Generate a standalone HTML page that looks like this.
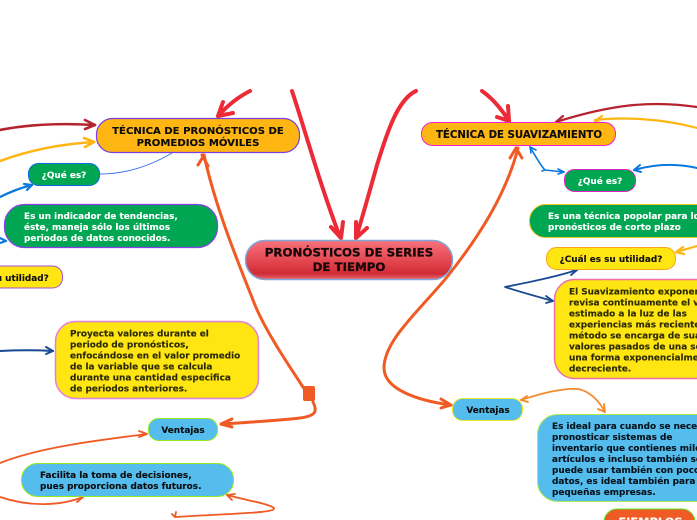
<!DOCTYPE html>
<html><head><meta charset="utf-8"><style>
html,body{margin:0;padding:0;background:#fff}
svg{display:block}
text{font-family:"DejaVu Sans",sans-serif;font-weight:700;font-size:8.9px;stroke:currentColor;stroke-width:.12px}
.c{stroke-linecap:round;stroke-linejoin:round;fill:none}
</style></head><body>
<svg width="697" height="520" viewBox="0 0 697 520" xmlns="http://www.w3.org/2000/svg">
<defs>
<linearGradient id="g" x1="0" y1="0" x2="0" y2="1">
<stop offset="0" stop-color="#f8727c"/><stop offset=".6" stop-color="#e0404a"/><stop offset=".85" stop-color="#cf2c36"/><stop offset="1" stop-color="#ee6a72"/>
</linearGradient>
</defs>

<!-- red main -->
<g class="c" stroke="#ec2b36" stroke-width="4">
<path d="M292 91C305 130 320 185 340 237"/>
<path d="M331 227L341 238L343 222"/>
<path d="M416 91C396 100 385 140 377 165C370 190 363 215 356 238"/>
<path d="M356 238L367 228M356 238L356 222"/>
<path d="M250 91C238 97 228 105 218 116"/>
<path d="M218 116L233 113M218 116L223 102"/>
<path d="M482 91C492 98 502 110 509 121"/>
<path d="M509 121L497 117M509 121L508 106"/>
</g>

<!-- orange trunk -->
<g class="c" stroke="#f05a24">
<path stroke-width="3" d="M305 390C285 360 262 325 253 300C235 255 215 205 204 155"/>
<path stroke-width="3" d="M202 155L208 166M204 155L198 165"/>
<path stroke-width="3" d="M313 402C318 412 315 416 300 418C275 421 250 422 222 424"/>
<path stroke-width="3" d="M221 424L232 419M221 424L232 427"/>
<path stroke-width="3" d="M518 148C506 195 478 238 447 277C420 310 384 340 384 368C384 390 420 401 451 405"/>
<path stroke-width="3" d="M516 148L522 158M516 148L510 158"/>
<path stroke-width="3" d="M451 405L441 399M451 405L441 408"/>
<path stroke-width="1.800" d="M147 434C100 440 40 447 0 463C-25 475 -25 490 0 497C30 507 60 506 83 497"/>
<path stroke-width="1.800" d="M147 434L139 431M147 434L139 437"/>
<path stroke-width="1.800" d="M83 497L75 495M83 497L77 502"/>
<path stroke-width="1.800" d="M227 495C245 500 270 504 274 508C276 513 240 513 175 517"/>
<path stroke-width="1.800" d="M227 495L235 494M227 495L232 500"/>
<path stroke-width="1.800" d="M175 517L172 514M175 517L176 512"/>
</g>
<rect x="303" y="386" width="12" height="15" rx="2" fill="#f05a24"/>

<!-- left connectors -->
<g class="c">
<path stroke="#b5242e" stroke-width="2.600" d="M0 130C30 124 60 123 95 125"/>
<path stroke="#b5242e" stroke-width="2.600" d="M95 125L85 120M95 125L85 129"/>
<path stroke="#ffb612" stroke-width="2.600" d="M0 161C30 150 60 144 94 142"/>
<path stroke="#ffb612" stroke-width="2.600" d="M94 142L84 138M94 142L85 147"/>
<path stroke="#0a78e0" stroke-width="2.200" d="M0 197C10 192 20 188 32 185"/>
<path stroke="#0a78e0" stroke-width="2.200" d="M32 185L24 184M32 185L27 190"/>
<path stroke="#0a78e0" stroke-width="2.200" d="M0 243L6 241M6 241L0 238"/>
<path stroke="#3f6fee" stroke-width="1" d="M100 174C125 174 150 166 172 153"/>
<path stroke="#1b4a94" stroke-width="2" d="M0 351C20 350 35 350 53 351"/>
<path stroke="#1b4a94" stroke-width="2" d="M53 351L46 347M53 351L46 354"/>
</g>

<!-- right connectors -->
<g class="c">
<path stroke="#b5242e" stroke-width="2.200" d="M697 107C650 100 610 105 556 122"/>
<path stroke="#b5242e" stroke-width="2.200" d="M556 122L563 116M556 122L564 124"/>
<path stroke="#ffb612" stroke-width="2.200" d="M697 128C660 118 620 117 595 120"/>
<path stroke="#ffb612" stroke-width="2.200" d="M595 121L602 116M595 121L602 124"/>
<path stroke="#0a78e0" stroke-width="1.600" d="M530 147C535 155 540 165 545 170L542 171M545 170L564 172"/>
<path stroke="#0a78e0" stroke-width="1.600" d="M530 147L531 153M530 147L536 150M564 172L558 169M564 172L558 174"/>
<path stroke="#0a78e0" stroke-width="2" d="M697 168C675 163 655 164 634 170"/>
<path stroke="#0a78e0" stroke-width="2" d="M634 170L640 165M634 170L641 172"/>
<path stroke="#ffb612" stroke-width="2.200" d="M697 246L676 252"/>
<path stroke="#ffb612" stroke-width="2.200" d="M676 252L683 247M676 252L684 254"/>
<path stroke="#1b4a94" stroke-width="1.800" d="M577 270C555 277 530 282 505 287C520 292 535 296 553 301"/>
<path stroke="#1b4a94" stroke-width="1.800" d="M577 270L569 269M577 270L571 275M553 301L546 296M553 301L546 303"/>
<path stroke="#f5892a" stroke-width="1.800" d="M521 400C545 392 565 388 578 389C590 391 600 402 605 412"/>
<path stroke="#f5892a" stroke-width="1.800" d="M521 400L527 396M521 400L528 402M605 412L604 404M605 412L598 409"/>
</g>

<!-- main -->
<rect x="245.500" y="240.500" width="207" height="39" rx="19.500" fill="url(#g)" stroke="#7fa8d8" stroke-width="1.500"/>
<text x="349" y="256.500" text-anchor="middle" style="font-size:11.800px;color:#1a0808;stroke-width:.3px" fill="#1a0808">PRONÓSTICOS DE SERIES</text>
<text x="349" y="271" text-anchor="middle" style="font-size:11.800px;color:#1a0808;stroke-width:.3px" fill="#1a0808">DE TIEMPO</text>

<!-- left nodes -->
<rect x="96.500" y="118.500" width="203" height="34" rx="16" fill="#ffb612" stroke="#7a3fe0" stroke-width="1.200"/>
<text x="198" y="134" text-anchor="middle" style="font-size:10.100px;color:#0c0c0c" fill="#0c0c0c">TÉCNICA DE PRONÓSTICOS DE</text>
<text x="198" y="146" text-anchor="middle" style="font-size:10.100px;color:#0c0c0c" fill="#0c0c0c">PROMEDIOS MÓVILES</text>

<rect x="28.500" y="163.500" width="71" height="22" rx="10" fill="#00a651" stroke="#0a6ae0" stroke-width="1"/>
<text x="64" y="178" text-anchor="middle" fill="#fff" style="color:#fff">¿Qué es?</text>

<rect x="4.500" y="204.500" width="213" height="43" rx="20" fill="#00a651" stroke="#8a3fe8" stroke-width="1.200"/>
<g fill="#fff" style="color:#fff">
<text x="24" y="219">Es un indicador de tendencias,</text>
<text x="24" y="230">éste, maneja sólo los últimos</text>
<text x="24" y="241">periodos de datos conocidos.</text>
</g>

<rect x="-40" y="266" width="102.500" height="22" rx="10" fill="#ffe512" stroke="#a04fd8" stroke-width="1"/>
<text x="-54" y="281" fill="#111" style="color:#111">¿Cuál es su utilidad?</text>

<rect x="55.500" y="321.500" width="203" height="77" rx="20" fill="#ffe512" stroke="#e080d8" stroke-width="1.500"/>
<g fill="#2b2a05" style="color:#2b2a05">
<text x="70" y="336.500">Proyecta valores durante el</text>
<text x="70" y="347.500">periodo de pronósticos,</text>
<text x="70" y="358.500">enfocándose en el valor promedio</text>
<text x="70" y="369.500">de la variable que se calcula</text>
<text x="70" y="380.500">durante una cantidad especifica</text>
<text x="70" y="391.500">de periodos anteriores.</text>
</g>

<rect x="148.500" y="418.500" width="69" height="22" rx="10" fill="#55bdee" stroke="#96e81e" stroke-width="1"/>
<text x="183" y="433" text-anchor="middle" fill="#0c0c0c" style="color:#0c0c0c">Ventajas</text>

<rect x="21.500" y="463.500" width="212" height="33" rx="16" fill="#55bdee" stroke="#96e81e" stroke-width="1"/>
<g fill="#0c0c0c" style="color:#0c0c0c">
<text x="40" y="478">Facilita la toma de decisiones,</text>
<text x="40" y="489">pues proporciona datos futuros.</text>
</g>

<!-- right nodes -->
<rect x="421.500" y="122.500" width="194" height="23" rx="11" fill="#ffb612" stroke="#f020d0" stroke-width="1"/>
<text x="519" y="138" text-anchor="middle" style="font-size:10.200px;color:#0c0c0c" fill="#0c0c0c">TÉCNICA DE SUAVIZAMIENTO</text>

<rect x="564.500" y="169.500" width="71" height="22" rx="10" fill="#00a651" stroke="#e020c0" stroke-width="1"/>
<text x="600" y="184" text-anchor="middle" fill="#fff" style="color:#fff">¿Qué es?</text>

<rect x="529.500" y="204.500" width="220" height="33" rx="16" fill="#00a651" stroke="#f0c81e" stroke-width="1"/>
<g fill="#fff" style="color:#fff">
<text x="548" y="219">Es una técnica popolar para los</text>
<text x="548" y="230">pronósticos de corto plazo</text>
</g>

<rect x="546.500" y="247.500" width="129" height="22" rx="10" fill="#ffe512" stroke="#f5a81e" stroke-width="1"/>
<text x="611" y="262" text-anchor="middle" fill="#111" style="color:#111">¿Cuál es su utilidad?</text>

<rect x="554.500" y="279.500" width="190" height="99" rx="20" fill="#ffe512" stroke="#f070a8" stroke-width="1.500"/>
<g fill="#2b2a05" style="color:#2b2a05">
<text x="569" y="294.500">El Suavizamiento exponencial</text>
<text x="569" y="305.500">revisa continuamente el valor</text>
<text x="569" y="316.500">estimado a la luz de las</text>
<text x="569" y="327.500">experiencias más recientes, este</text>
<text x="569" y="338.500">método se encarga de suavizar</text>
<text x="569" y="349.500">valores pasados de una serie en</text>
<text x="569" y="360.500">una forma exponencialmente</text>
<text x="569" y="371.500">decreciente.</text>
</g>

<rect x="452.500" y="398.500" width="70" height="22" rx="10" fill="#55bdee" stroke="#f0e81e" stroke-width="1"/>
<text x="488" y="413" text-anchor="middle" fill="#0c0c0c" style="color:#0c0c0c">Ventajas</text>

<rect x="537.500" y="414.500" width="210" height="87" rx="20" fill="#55bdee" stroke="#b0e84e" stroke-width="1"/>
<g fill="#06131c" style="color:#06131c">
<text x="552" y="429">Es ideal para cuando se necesita</text>
<text x="552" y="440">pronosticar sistemas de</text>
<text x="552" y="451">inventario que contienes miles de</text>
<text x="552" y="462">artículos e incluso también se</text>
<text x="552" y="473">puede usar también con pocos</text>
<text x="552" y="484">datos, es ideal también para</text>
<text x="552" y="495">pequeñas empresas.</text>
</g>

<rect x="604" y="509" width="91" height="30" rx="13" fill="#f05a24" stroke="#60e820" stroke-width="1"/>
<text x="650.500" y="526" text-anchor="middle" style="font-size:11.400px;color:#fff" fill="#fff">EJEMPLOS</text>
</svg>
</body></html>
